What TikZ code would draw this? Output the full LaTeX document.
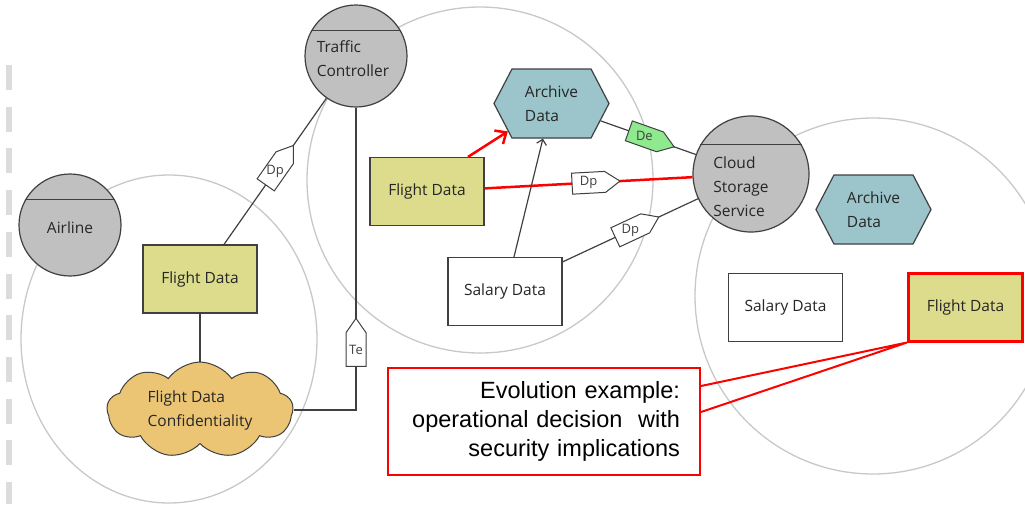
\documentclass[tikz,border=0pt]{standalone}
\usepackage{fontspec}
\setmainfont{Open Sans}
\newfontfamily\notefont{Liberation Sans}
\usetikzlibrary{shapes.symbols,arrows.meta}

\definecolor{partygray}{HTML}{C0C0C0}
\definecolor{datayellow}{HTML}{DCDC8C}
\definecolor{archteal}{HTML}{9BC4CB}
\definecolor{goalorange}{HTML}{EBC574}
\definecolor{tagGreen}{HTML}{8FE98F}
\definecolor{edgegray}{HTML}{404040}
\definecolor{ringgray}{HTML}{C8C8C8}
\definecolor{bargray}{HTML}{DCDCDC}
\definecolor{inkgray}{HTML}{262626}

\tikzset{
    ring/.style={draw=ringgray, line width=1.3pt},
    party/.style={circle, draw=edgegray, fill=partygray, line width=1.2pt, minimum size=102pt, inner sep=0pt},
    data/.style={rectangle, draw=edgegray, line width=1.2pt, minimum width=114pt, minimum height=68pt, inner sep=0pt},
    archive/.style={signal, signal to=east and west, signal pointer angle=125, draw=edgegray, fill=archteal, line width=1.2pt, minimum width=115pt, minimum height=69pt, inner sep=0pt, align=left},
    goal/.style={cloud, cloud puffs=9, cloud puff arc=110, aspect=2, draw=edgegray, fill=goalorange, line width=1pt, minimum width=186pt, minimum height=95pt, inner sep=0pt},
    link/.style={draw=edgegray, line width=1.2pt},
    redlink/.style={draw=red, line width=2.5pt},
    tag/.style={signal, signal to=east, signal pointer angle=70, draw=edgegray, fill=white, line width=1pt, minimum width=48pt, minimum height=21pt, inner sep=0pt, sloped},
    tagtext/.style={font=\fontsize{13}{15}\selectfont, text=edgegray},
    note/.style={rectangle, draw=red, line width=2pt, minimum width=312pt, minimum height=107pt, inner xsep=20pt, text width=272pt, align=right, text=black, font=\notefont\fontsize{23.5}{29}\selectfont}
}

\begin{document}
\begin{tikzpicture}[x=1pt, y=-1pt, font=\fontsize{15.5}{24}\selectfont, text=inkgray]
    \useasboundingbox (0,0) rectangle (1025,504);

    % 背景の円
    \draw[ring] (169,339) ellipse [x radius=148, y radius=164];
    \draw[ring] (480,180) circle [radius=173];
    \draw[ring] (873,296) circle [radius=178];

    % 左端の破線
    \draw[bargray, line width=6pt, dash pattern=on 25pt off 16.7pt] (9,65) -- (9,504);

    % 主体
    \node[party] (tc) at (356,56) {};
    \node[party] (air) at (70,225) {};
    \node[party, minimum size=116pt] (cs) at (751,174) {};
    \foreach \n in {tc,air,cs}
        \draw[edgegray, line width=1.2pt] (\n.150) -- (\n.30);
    \node[align=left] (tcText) at (353,59) {Traffic\\Controller};
    \node (airText) at (70,228) {Airline};
    \node[align=left] (csText) at (741,187) {Cloud\\Storage\\Service};

    % データ
    \node[data, fill=datayellow] (fdA) at (200,279) {Flight Data};
    \node[data, fill=datayellow] (fdB) at (427,191.5) {Flight Data};
    \node[data, fill=white] (salA) at (505,291.5) {Salary Data};
    \node[data, fill=white] (salB) at (785.5,307.5) {Salary Data};
    \node[data, fill=datayellow, draw=red, line width=3pt] (fdC) at (965.5,307) {Flight Data};
    \node[archive] (archA) at (551.5,103.5) {Archive\\Data};
    \node[archive] (archB) at (873.5,209.5) {Archive\\Data};
    \node[goal, align=left] (conf) at (200,410) {Flight Data\\Confidentiality};

    % 依存関係
    \draw[link] ([xshift=24pt]fdA.north) -- (tc) node[tag, pos=0.5] (dpA) {};
    \node[tagtext] (dpAText) at (dpA) {Dp};
    \draw[link] (fdA) -- (conf);
    \draw[link] (conf) -| (tc) node[tag, minimum height=20pt, pos=0.6] (te) {};
    \node[tagtext] (teText) at (te) {Te};
    \draw[redlink, -{Straight Barb[length=9pt, width=16pt]}] ([xshift=41pt]fdB.north) -- (archA);
    \draw[redlink] (fdB) -- (cs) node[tag, pos=0.5] (dpB) {};
    \node[tagtext] (dpBText) at (dpB) {Dp};
    \draw[link] (archA) -- (cs) node[tag, fill=tagGreen, pos=0.46] (de) {};
    \node[tagtext] (deText) at (de) {De};
    \draw[link, -{Straight Barb[length=5pt, width=10pt]}] ([xshift=9pt]salA.north) -- (archA);
    \draw[link] ([yshift=-5pt]salA.north east) -- (cs) node[tag, pos=0.5] (dpC) {};
    \node[tagtext] (dpCText) at (dpC) {Dp};

    % 吹き出し
    \node[note] (note) at (544,421.5) {Evolution example:\\operational decision\ \ with\\security implications};
    \draw[red, line width=2pt] ([yshift=35.5pt]note.east) -- (fdC.south west) -- ([yshift=9.5pt]note.east);

\end{tikzpicture}
\end{document}
